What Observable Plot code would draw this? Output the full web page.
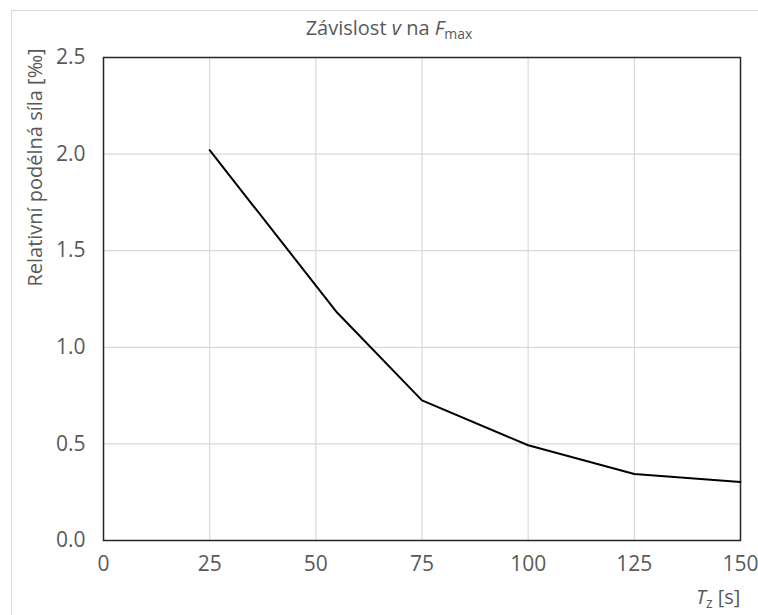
<!DOCTYPE html>
<html>
<head>
<meta charset="utf-8">
<script src="https://cdn.jsdelivr.net/npm/d3@7"></script>
<script src="https://cdn.jsdelivr.net/npm/@observablehq/plot@0.6"></script>
<style>
  html, body { margin: 0; padding: 0; background: #fff; }
  #wrap { position: relative; width: 758px; height: 615px; overflow: hidden; font-family: "Open Sans", "Noto Sans", sans-serif; color: #595959; }
  #border { position: absolute; left: 11px; top: 10px; width: 800px; height: 700px; border-left: 1.5px solid #d9d9d9; border-top: 1.5px solid #d9d9d9; }
  #title { position: absolute; left: 0; top: 14px; width: 778px; text-align: center; font-size: 20px; line-height: 28px; }
  #xlabel { position: absolute; left: 696px; top: 583px; font-size: 20px; line-height: 28px; }
  #chart { position: absolute; left: 0; top: 40px; }
  sub { font-size: 14px; vertical-align: -4px; }
</style>
</head>
<body>
<div id="wrap">
  <div id="border"></div>
  <div id="title">Závislost <i>v</i> na <i>F</i><sub>max</sub></div>
  <div id="chart"></div>
  <div id="xlabel"><i>T</i><sub>z</sub> [s]</div>
</div>
<script>
const tz = [25, 55, 75, 100, 125, 150];
const force = [2.02, 1.18, 0.725, 0.493, 0.344, 0.303];
const xTicks = [0, 25, 50, 75, 100, 125, 150];
const yTicks = [0, 0.5, 1.0, 1.5, 2.0, 2.5];
const yLabel = "Relativní podélná síla [‰]";

const data = tz.map((t, i) => ({t, f: force[i]}));

const chart = Plot.plot({
  width: 758,
  height: 575,
  marginLeft: 103,
  marginRight: 18,
  marginTop: 17,
  marginBottom: 75,
  style: {fontFamily: "'Open Sans', 'Noto Sans', sans-serif", fontSize: "21px", color: "#595959", background: "transparent", overflow: "visible"},
  x: {domain: [0, 150], ticks: xTicks, label: null},
  y: {domain: [0, 2.5], ticks: yTicks, label: null},
  marks: [
    Plot.gridX(xTicks.filter(d => d > 0 && d < 150), {stroke: "#d9d9d9", strokeOpacity: 1, strokeWidth: 1.2}),
    Plot.gridY(yTicks.filter(d => d > 0 && d < 2.5), {stroke: "#d9d9d9", strokeOpacity: 1, strokeWidth: 1.2}),
    Plot.axisX(xTicks, {tickSize: 0, tickPadding: 16, tickFormat: d => String(d), fill: "#595959", fontSize: 21}),
    Plot.axisY(yTicks, {tickSize: 0, tickPadding: 18, tickFormat: d => d.toFixed(1), fill: "#595959", fontSize: 21}),
    Plot.frame({stroke: "#262626", strokeWidth: 1.5}),
    Plot.line(data, {x: "t", y: "f", stroke: "#000", strokeWidth: 2}),
    Plot.text([yLabel], {frameAnchor: "top-left", dx: -76, dy: 110, rotate: -90, textAnchor: "middle", fill: "#595959", fontSize: 20})
  ]
});
document.getElementById("chart").appendChild(chart);
</script>
</body>
</html>
